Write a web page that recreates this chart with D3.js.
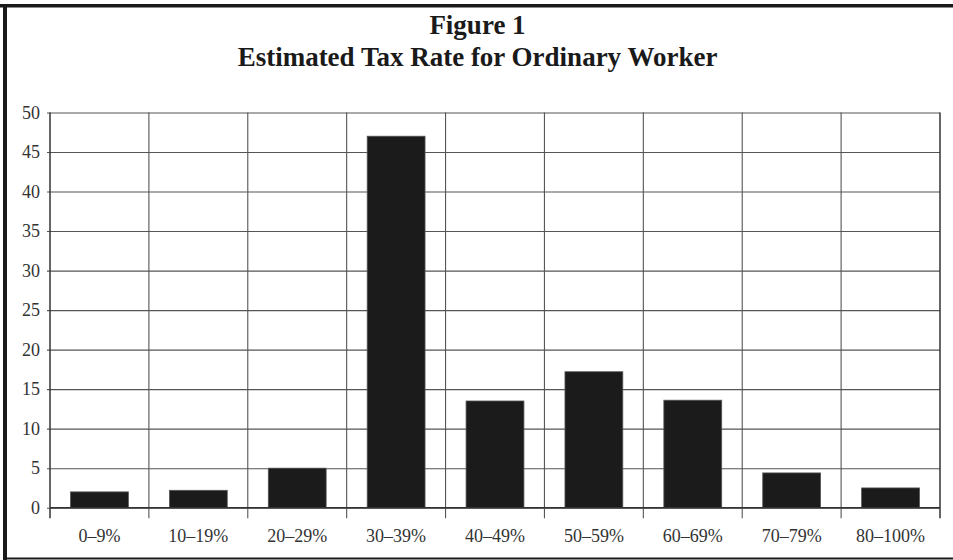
<!DOCTYPE html>
<html><head><meta charset="utf-8">
<script src="https://cdn.jsdelivr.net/npm/d3@7"></script>
<style>
html,body{margin:0;padding:0;background:#fff;}
svg{display:block;}
</style></head>
<body>
<svg id="chart" width="953" height="560"></svg>
<script>
const categories = ["0–9%","10–19%","20–29%","30–39%","40–49%","50–59%","60–69%","70–79%","80–100%"];
const values = [2.0, 2.2, 5.0, 47.0, 13.5, 17.2, 13.6, 4.4, 2.5];
const yTicks = [0,5,10,15,20,25,30,35,40,45,50];
const titleLines = ["Figure 1","Estimated Tax Rate for Ordinary Worker"];

const svg = d3.select("#chart");
const W = 953, H = 560;
const m = {left:50, right:13, top:112.5, bottom:52.3};
const x = d3.scaleBand().domain(categories).range([m.left, W - m.right]).paddingInner(0.415).paddingOuter(0.2075);
const y = d3.scaleLinear().domain([0,50]).range([H - m.bottom, m.top]);

// frame
svg.append("rect").attr("x",0).attr("y",4).attr("width",W).attr("height",3.5).attr("fill","#1a1a1a");
svg.append("rect").attr("x",3).attr("y",4).attr("width",4).attr("height",H-4).attr("fill","#1a1a1a");
svg.append("rect").attr("x",3).attr("y",557.5).attr("width",W).attr("height",2).attr("fill","#1a1a1a");

// title
svg.selectAll("text.title").data(titleLines).join("text")
  .attr("class","title")
  .attr("x", W/2 + 1).attr("y",(d,i)=> 34 + i*32)
  .attr("text-anchor","middle")
  .attr("font-family","'Liberation Serif', serif")
  .attr("font-weight","bold")
  .attr("font-size",27)
  .attr("fill","#1a1a1a")
  .text(d=>d);

const x0 = m.left, x1 = W - m.right;
const y0 = y(0), yTop = y(50);
const step = x.step();

// horizontal gridlines
const gy = svg.append("g")
  .attr("transform",`translate(${x0},0)`)
  .call(d3.axisLeft(y).tickValues(yTicks).tickSize(-(x1-x0)).tickSizeOuter(0).tickFormat(""));
gy.select(".domain").remove();
gy.selectAll(".tick line").attr("stroke","#555").attr("stroke-width",1.1)
  .attr("x1",-3);

// vertical gridlines at band boundaries (extend below axis as ticks)
const boundaries = categories.map(c => x(c) - (step - x.bandwidth())/2).concat([x1]);
svg.append("g").selectAll("line").data(boundaries).join("line")
  .attr("x1",d=>d).attr("x2",d=>d).attr("y1",yTop).attr("y2",y0+10.5)
  .attr("stroke",(d,i)=> (i===0||i===boundaries.length-1) ? "#333" : "#555")
  .attr("stroke-width",(d,i)=> (i===0||i===boundaries.length-1) ? 1.5 : 1.1);

// bars
svg.append("g").selectAll("rect").data(values).join("rect")
  .attr("x",(d,i)=>x(categories[i]))
  .attr("width",x.bandwidth())
  .attr("y",d=>y(d))
  .attr("height",d=>y0 - y(d))
  .attr("fill","#1b1b1b")
  .attr("stroke","#555").attr("stroke-width",0.8);

// baseline
svg.append("line").attr("x1",x0).attr("x2",x1).attr("y1",y0).attr("y2",y0)
  .attr("stroke","#333").attr("stroke-width",1.5);

// y labels
const ya = svg.append("g").attr("transform",`translate(${x0},0)`)
  .call(d3.axisLeft(y).tickValues(yTicks).tickSize(0).tickPadding(10));
ya.select(".domain").remove();
ya.attr("font-size",null).attr("font-family",null);
ya.selectAll("text").style("font-family","'Liberation Serif', serif").style("font-size","18px").attr("fill","#333");

// x labels
const xa = svg.append("g").attr("transform",`translate(0,${y0})`)
  .call(d3.axisBottom(x).tickSize(0).tickPadding(22));
xa.select(".domain").remove();
xa.attr("font-size",null).attr("font-family",null);
xa.selectAll("text").style("font-family","'Liberation Serif', serif").style("font-size","18px").attr("fill","#333");
</script>
</body></html>
